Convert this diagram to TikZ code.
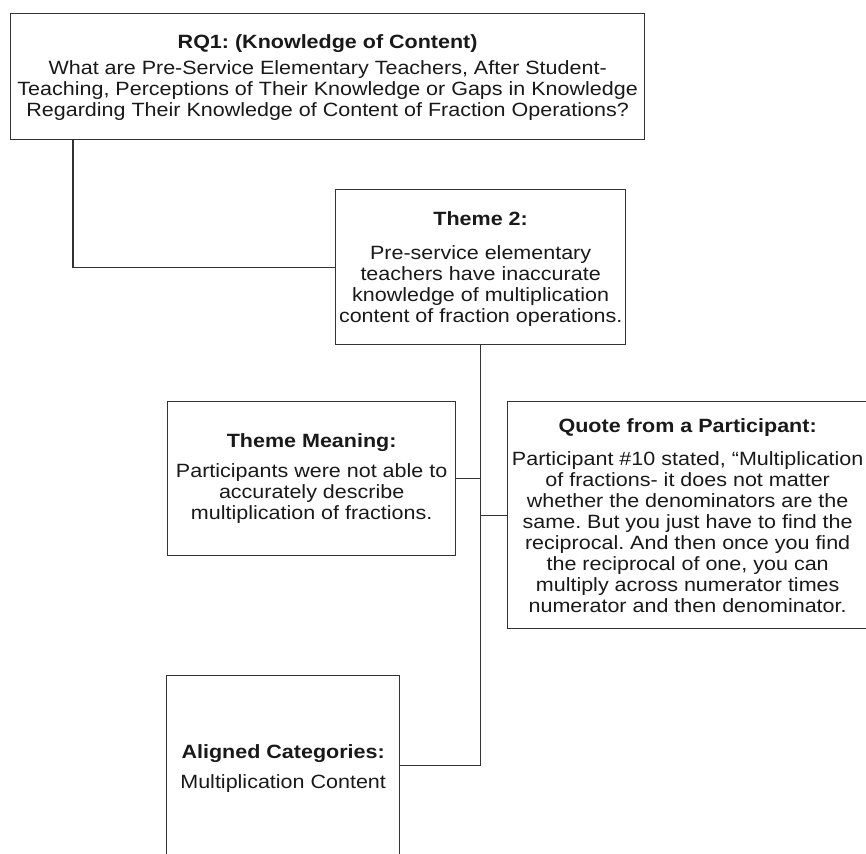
\documentclass[tikz,border=0pt]{standalone}
\usepackage{fontspec}
\setmainfont[FakeStretch=1.12]{Liberation Sans}
\frenchspacing
\begin{document}
\begin{tikzpicture}[x=1pt,y=-1pt,
  box/.style={draw=black!80, line width=1.3pt, anchor=north west, inner sep=0pt},
  link/.style={draw=black!80, line width=1.3pt},
  txt/.style={align=center, text=black!90, inner sep=0pt,
    font=\fontsize{19.2}{21}\selectfont}]
\clip (0,0) rectangle (866,853);
\fill[white] (0,0) rectangle (866,853);

% boxes
\node[box, minimum width=634pt, minimum height=126pt] (rq) at (10,13) {};
\node[box, minimum width=290pt, minimum height=155pt] (t2) at (335,189) {};
\node[box, minimum width=288pt, minimum height=154pt] (tm) at (167,401) {};
\node[box, minimum width=360pt, minimum height=227pt] (qp) at (507,401) {};
\node[box, minimum width=233pt, minimum height=180pt] (ac) at (166,675) {};

% texts
\node[txt] (rqtext) at ([yshift=-1pt]rq.center) {\textbf{RQ1: (Knowledge of Content)}\\[5pt]
  What are Pre-Service Elementary Teachers, After Student-\\
  Teaching, Perceptions of Their Knowledge or Gaps in Knowledge\\
  Regarding Their Knowledge of Content of Fraction Operations?};
\node[txt] (t2text) at ([yshift=-2pt]t2.center) {\textbf{Theme 2:}\\[13pt]
  Pre-service elementary\\
  teachers have inaccurate\\
  knowledge of multiplication\\
  content of fraction operations.};
\node[txt] (tmtext) at (tm.center) {\textbf{Theme Meaning:}\\[9pt]
  Participants were not able to\\
  accurately describe\\
  multiplication of fractions.};
\node[txt] (qptext) at (qp.center) {\textbf{Quote from a Participant:}\\[12pt]
  Participant \#10 stated, “Multiplication\\
  of fractions- it does not matter\\
  whether the denominators are the\\
  same. But you just have to find the\\
  reciprocal. And then once you find\\
  the reciprocal of one, you can\\
  multiply across numerator times\\
  numerator and then denominator.};
\node[txt] (actext) at ([yshift=-3pt]ac.center) {\textbf{Aligned Categories:}\\[9pt]
  Multiplication Content};

% connectors
\draw[link] ([xshift=63pt]rq.south west) |- (t2.west);
\draw[link] (t2.south) |- (ac.east);
\draw[link] (tm.east) -- (tm.east -| t2.south);
\draw[link] (qp.west -| t2.south) -- (qp.west);
\end{tikzpicture}
\end{document}
